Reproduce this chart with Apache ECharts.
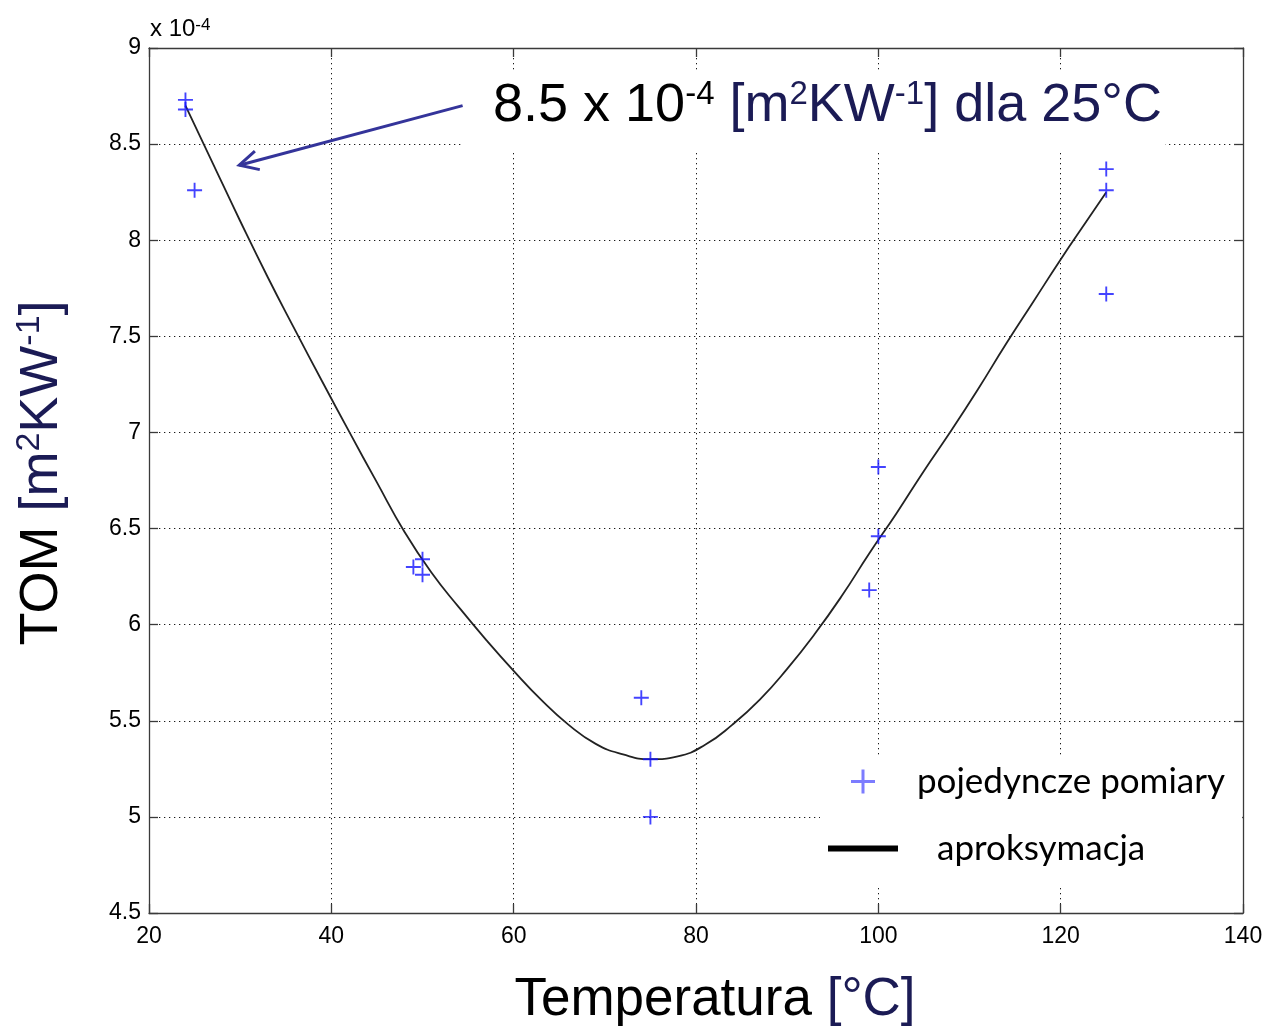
<!DOCTYPE html>
<html>
<head>
<meta charset="utf-8">
<script src="https://cdn.jsdelivr.net/npm/echarts@6/dist/echarts.min.js"></script>
<style>
  html, body { margin: 0; padding: 0; background: #fff; }
  #chart { width: 1267px; height: 1031px; }
</style>
</head>
<body>
<div id="chart"></div>
<script>
// single measurements (temperature in °C, TOM in 1e-4 m2K/W)
const measTemp = [24, 24, 25, 49, 50, 50, 74, 75, 75, 99, 100, 100, 125, 125, 125];
const measTom = [8.73, 8.68, 8.26, 6.30, 6.34, 6.26, 5.62, 5.30, 5.00, 6.18, 6.82, 6.46, 8.37, 8.26, 7.72];

// approximation curve
const fitTemp = [24, 27, 30, 33, 36, 39, 42, 45, 48, 51, 54, 57, 60, 63, 66, 69, 72, 75, 78, 81, 84, 87, 90, 93, 96, 99, 102, 105, 108, 111, 114, 117, 120, 123, 125];
const fitTom = [8.70, 8.40, 8.10, 7.81, 7.535, 7.265, 7.00, 6.74, 6.485, 6.27, 6.09, 5.92, 5.76, 5.61, 5.48, 5.38, 5.325, 5.30, 5.315, 5.375, 5.48, 5.61, 5.77, 5.95, 6.15, 6.37, 6.58, 6.80, 7.01, 7.23, 7.46, 7.68, 7.90, 8.11, 8.25];

// annotation arrow (data coords)
const arrowFrom = [54.4, 8.70];
const arrowTo = [29.9, 8.39];

const FONT = '"Liberation Sans", Arial, sans-serif';
const NAVY = '#1b1b55';
const plusIcon = 'path://M7,0H9V16H7ZM0,7H16V9H0Z';

const chart = echarts.init(document.getElementById('chart'), null, { renderer: 'canvas' });

const axisLine = { show: true, lineStyle: { color: '#3a3a3a', width: 1.3 } };
const axisTick = { show: true, inside: true, length: 9, lineStyle: { color: '#3a3a3a', width: 1.3 } };
const dotted = { show: true, lineStyle: { color: '#1a1a1a', width: 1, type: [1.3, 3.7] } };
const tickLabel = { color: '#000', fontFamily: FONT, fontSize: 23 };

chart.setOption({
  animation: false,
  backgroundColor: '#fff',
  grid: { left: 149, right: 24, top: 48, bottom: 118, show: false },
  xAxis: [
    { type: 'value', min: 20, max: 140, interval: 20, axisLine, axisTick,
      splitLine: dotted, axisLabel: Object.assign({ margin: 12 }, tickLabel) },
    { type: 'value', position: 'top', min: 20, max: 140, interval: 20, axisLine, axisTick,
      splitLine: { show: false }, axisLabel: { show: false } }
  ],
  yAxis: [
    { type: 'value', min: 4.5, max: 9, interval: 0.5, axisLine, axisTick,
      splitLine: dotted, axisLabel: Object.assign({ margin: 8 }, tickLabel) },
    { type: 'value', position: 'right', min: 4.5, max: 9, interval: 0.5, axisLine, axisTick,
      splitLine: { show: false }, axisLabel: { show: false } }
  ],
  legend: [
    { data: [{ name: 'pojedyncze pomiary', icon: plusIcon }], selectedMode: false, z: 20,
      left: 851, top: 764, padding: 0, itemWidth: 24, itemHeight: 24,
      itemStyle: { color: '#5b5bff' },
      textStyle: { fontFamily: 'Lato', fontSize: 35, color: '#000', padding: [0, 0, 0, 37] } },
    { data: [{ name: 'aproksymacja', icon: 'rect' }], selectedMode: false, z: 20,
      left: 828, top: 831, padding: 0, itemWidth: 70, itemHeight: 6,
      itemStyle: { color: '#000' },
      textStyle: { fontFamily: 'Lato', fontSize: 35, color: '#000', padding: [0, 0, 0, 34] } }
  ],
  series: [
    {
      name: 'aproksymacja', type: 'line', smooth: 0.5, smoothConstraint: false, symbol: 'none',
      lineStyle: { color: '#222', width: 1.8 }, itemStyle: { color: '#000' },
      data: fitTemp.map((t, i) => [t, fitTom[i]]), z: 2
    },
    {
      name: 'pojedyncze pomiary', type: 'scatter', symbol: plusIcon, symbolSize: 15,
      itemStyle: { color: '#1414ff' },
      data: measTemp.map((t, i) => [t, measTom[i]]), z: 3
    }
  ]
});

// annotations placed from the axes
const px = p => chart.convertToPixel({ xAxisIndex: 0, yAxisIndex: 0 }, p);
const tail = px(arrowFrom);
const tip = px(arrowTo);
const ang = Math.atan2(tail[1] - tip[1], tail[0] - tip[0]);
const headLen = 21, headAng = 0.47;
const armA = [tip[0] + headLen * Math.cos(ang - headAng), tip[1] + headLen * Math.sin(ang - headAng)];
const armB = [tip[0] + headLen * Math.cos(ang + headAng), tip[1] + headLen * Math.sin(ang + headAng)];
const legTL = px([93.6, 5.32]);
const legBR = px([139.9, 4.645]);
const ARROW = '#34349a';

chart.setOption({
  graphic: [
    { type: 'rect', z: 1, silent: true,
      shape: { x: legTL[0], y: legTL[1], width: legBR[0] - legTL[0], height: legBR[1] - legTL[1] },
      style: { fill: '#fff' } },
    { type: 'rect', z: 1, silent: true,
      shape: { x: 461, y: 70, width: 704, height: 80 }, style: { fill: '#fff' } },
    { type: 'polyline', z: 6, silent: true, shape: { points: [tail, tip] },
      style: { stroke: ARROW, lineWidth: 3, fill: null } },
    { type: 'polyline', z: 6, silent: true, shape: { points: [armA, tip, armB] },
      style: { stroke: ARROW, lineWidth: 3, fill: null, lineJoin: 'miter' } },
    { type: 'text', z: 7, x: 493, y: 106, silent: true,
      style: {
        text: '{b|8.5 x 10}{bs|-4}{b| }{n|[m}{ns|2}{n|KW}{ns|-1}{n|] dla 25°C}',
        verticalAlign: 'middle', align: 'left',
        rich: {
          b: { fontFamily: FONT, fontSize: 54, lineHeight: 56, fill: '#000' },
          bs: { fontFamily: FONT, fontSize: 33, lineHeight: 30, verticalAlign: 'top', fill: '#000' },
          n: { fontFamily: FONT, fontSize: 54, lineHeight: 56, fill: NAVY },
          ns: { fontFamily: FONT, fontSize: 33, lineHeight: 30, verticalAlign: 'top', fill: NAVY }
        }
      } },
    { type: 'text', z: 7, x: 150, y: 29, silent: true,
      style: {
        text: '{b|x 10}{s|-4}', verticalAlign: 'middle', align: 'left',
        rich: {
          b: { fontFamily: FONT, fontSize: 24, lineHeight: 25, fill: '#000' },
          s: { fontFamily: FONT, fontSize: 17, lineHeight: 14, verticalAlign: 'top', fill: '#000' }
        }
      } },
    { type: 'text', z: 7, x: 715, y: 1000, silent: true,
      style: {
        text: '{b|Temperatura }{n|[°C]}', verticalAlign: 'middle', align: 'center',
        rich: {
          b: { fontFamily: FONT, fontSize: 53, fill: '#000' },
          n: { fontFamily: FONT, fontSize: 53, fill: NAVY }
        }
      } },
    { type: 'text', z: 7, x: 42, y: 473, rotation: Math.PI / 2, silent: true,
      style: {
        text: '{b|TOM }{n|[m}{s|2}{n|KW}{s|-1}{n|]}', verticalAlign: 'middle', align: 'center',
        rich: {
          b: { fontFamily: FONT, fontSize: 54, lineHeight: 58, fill: '#000' },
          n: { fontFamily: FONT, fontSize: 54, lineHeight: 58, fill: NAVY },
          s: { fontFamily: FONT, fontSize: 34, lineHeight: 32, verticalAlign: 'top', fill: NAVY }
        }
      } }
  ]
});
</script>
</body>
</html>
